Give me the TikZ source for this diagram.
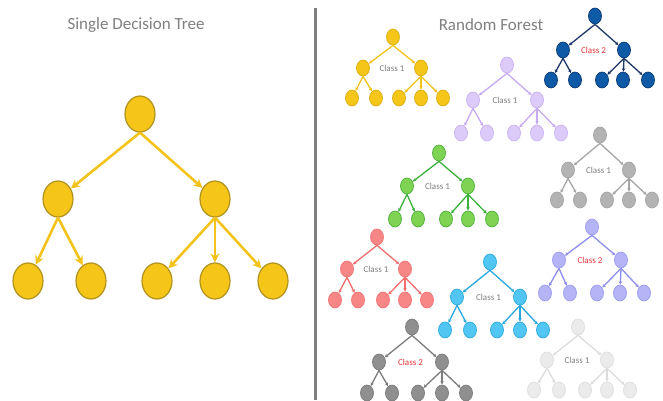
\documentclass[tikz,border=0pt]{standalone}
\usepackage{fontspec}
\setmainfont{Carlito}
\usetikzlibrary{shapes.geometric,arrows.meta,calc}
\definecolor{titlegray}{HTML}{808080}
\definecolor{divgray}{HTML}{7F7F7F}
\definecolor{cls1}{HTML}{7F7F7F}
\definecolor{cls2}{HTML}{E8333A}
\definecolor{bigF}{HTML}{F5C518}\definecolor{bigD}{HTML}{B0921E}\definecolor{bigL}{HTML}{F2C31B}
\definecolor{yelF}{HTML}{F5C518}\definecolor{yelD}{HTML}{D9AE14}\definecolor{yelL}{HTML}{F2C31B}
\definecolor{navF}{HTML}{0E5AA7}\definecolor{navD}{HTML}{0A3B70}\definecolor{navL}{HTML}{1F3868}
\definecolor{lavF}{HTML}{DCCBF8}\definecolor{lavD}{HTML}{C8B0F2}\definecolor{lavL}{HTML}{C6AAF2}
\definecolor{gryF}{HTML}{B3B3B3}\definecolor{gryD}{HTML}{A3A3A3}\definecolor{gryL}{HTML}{A6A6A6}
\definecolor{grnF}{HTML}{7ED352}\definecolor{grnD}{HTML}{4CAF3A}\definecolor{grnL}{HTML}{3DB03D}
\definecolor{redF}{HTML}{F78787}\definecolor{redD}{HTML}{F07272}\definecolor{redL}{HTML}{F06E6E}
\definecolor{cynF}{HTML}{52C6F2}\definecolor{cynD}{HTML}{2BA9DF}\definecolor{cynL}{HTML}{29A8E0}
\definecolor{perF}{HTML}{B4B4F7}\definecolor{perD}{HTML}{9A9AF0}\definecolor{perL}{HTML}{8E8EEE}
\definecolor{dgrF}{HTML}{8F8F8F}\definecolor{dgrD}{HTML}{7A7A7A}\definecolor{dgrL}{HTML}{7C7C7C}
\definecolor{lgrF}{HTML}{EBEBEB}\definecolor{lgrD}{HTML}{DDDDDD}\definecolor{lgrL}{HTML}{DCDCDC}
\tikzset{
  bignode/.style={ellipse, minimum width=30pt, minimum height=36pt, inner sep=0pt, fill=bigF, draw=bigD, line width=1.2pt},
  bigarr/.style={draw=bigL, line width=2.6pt, -{Stealth[length=9pt,width=9pt]}},
  sn/.style={ellipse, minimum width=13pt, minimum height=16pt, inner sep=0pt, line width=0.7pt},
  sarr/.style={line width=1.3pt, -{Stealth[length=3.5pt,width=3.5pt]}},
  lbl/.style={font=\fontsize{9}{10}\selectfont, inner sep=0pt},
  ttl/.style={font=\fontsize{17}{20}\selectfont, text=titlegray, inner sep=0pt}
}
% #1 prefix, #2 colour prefix, #3 root, #4 left child, #5 right child,
% #6 leaf y, #7 leaf x list, #8 label, #9 label colour
\newcommand\ftree[9]{%
  \node[sn,fill=#2F,draw=#2D] (#1-r) at #3 {};
  \node[sn,fill=#2F,draw=#2D] (#1-a) at #4 {};
  \node[sn,fill=#2F,draw=#2D] (#1-b) at #5 {};
  \foreach \xx [count=\ii] in {#7} {\node[sn,fill=#2F,draw=#2D] (#1-l\ii) at (\xx,#6) {};}
  \foreach \ss/\tt in {r/a,r/b,a/l1,a/l2,b/l3,b/l4,b/l5} {\draw[sarr,draw=#2L,color=#2L] (#1-\ss.south) -- (#1-\tt);}
  \node[lbl,text=#9] at ($(#1-a)!0.5!(#1-b)$) {#8};
}
\begin{document}
\begin{tikzpicture}[x=1pt,y=-1pt]
\useasboundingbox[fill=white] (0,0) rectangle (663,400);
% titles
\node[ttl] (t1) at (136,25) {Single Decision Tree};
\node[ttl] (t2) at (491,25) {Random Forest};
% divider
\draw[divgray, line width=3pt] (315,8) -- (315,400);
% big tree
\node[bignode] (R) at (140,114) {};
\node[bignode] (A) at (58,199) {};
\node[bignode] (B) at (215,199) {};
\node[bignode] (L1) at (28,281) {};
\node[bignode] (L2) at (91,281) {};
\node[bignode] (L3) at (157,281) {};
\node[bignode] (L4) at (215,281) {};
\node[bignode] (L5) at (273,281) {};
\foreach \s/\t in {R/A,R/B,A/L1,A/L2,B/L3,B/L4,B/L5} {\draw[bigarr] (\s.south) -- (\t);}
% forest
\ftree{ya}{yel}{(393,37)}{(363,68)}{(421,68)}{98}{352,376,399,421,443}{Class 1}{cls1}
\ftree{nb}{nav}{(595,16)}{(563,50)}{(624,50)}{80}{551,575,602,623,648}{Class 2}{cls2}
\ftree{lv}{lav}{(507,65)}{(473,100)}{(537,100)}{133}{461,487,514,537,561}{Class 1}{cls1}
\ftree{gy}{gry}{(600,135)}{(568,170)}{(629,170)}{200}{557,580,607,629,652}{Class 1}{cls1}
\ftree{gn}{grn}{(439,153)}{(407,186)}{(468,186)}{219}{395,418,446,468,492}{Class 1}{cls1}
\ftree{rd}{red}{(377,237)}{(347,269)}{(405,269)}{300}{335,358,383,405,427}{Class 1}{cls1}
\ftree{cy}{cyn}{(490,262)}{(457,297)}{(520,297)}{330}{445,470,497,520,543}{Class 1}{cls1}
\ftree{pw}{per}{(592,227)}{(559,260)}{(621,260)}{293}{545,570,597,620,644}{Class 2}{cls2}
\ftree{dg}{dgr}{(412,327)}{(379,362)}{(442,362)}{393}{367,392,418,442,466}{Class 2}{cls2}
\ftree{lg}{lgr}{(578,327)}{(547,360)}{(607,360)}{390}{534,559,585,607,630}{Class 1}{cls1}
\end{tikzpicture}
\end{document}
